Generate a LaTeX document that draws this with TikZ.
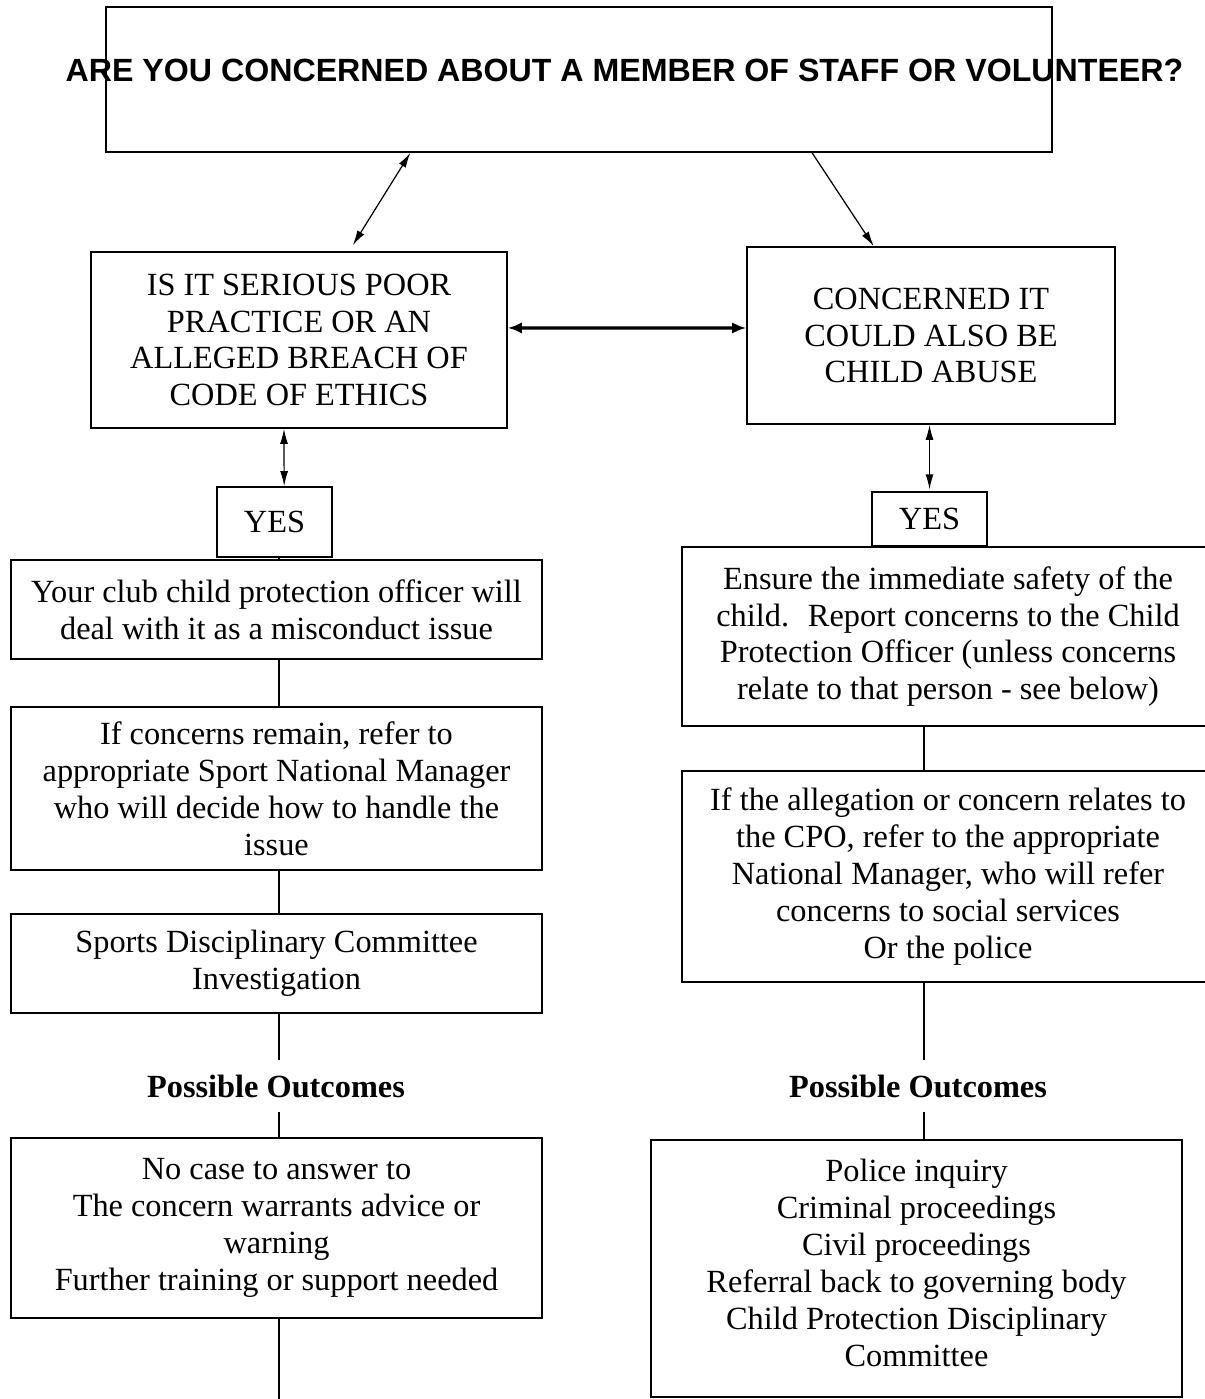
\documentclass[tikz,border=0pt]{standalone}
\usepackage{fontspec}
\setmainfont{Liberation Serif}
\newfontfamily\arialfont{Liberation Sans}
\usepackage{tikz}
\usetikzlibrary{arrows.meta}
\usetikzlibrary{calc}
\usetikzlibrary{positioning}

\tikzset{
  boite/.style={draw,line width=1pt,align=center,inner sep=0pt,font=\fontsize{18.4}{21}\selectfont},
  trait/.style={line width=0.6pt},
  dfleche/.style={line width=0.7pt,{Latex[length=8.5pt,width=4.5pt]}-{Latex[length=8.5pt,width=4.5pt]}},
  fleche/.style={line width=0.7pt,-{Latex[length=8.5pt,width=4.5pt]}},
  grosse/.style={line width=1.8pt,{Latex[length=8pt,width=6.5pt]}-{Latex[length=8pt,width=6.5pt]}},
  issue/.style={inner sep=0pt,minimum height=1.04cm,font=\fontsize{18.4}{21}\selectfont\bfseries},
}

\begin{document}
\begin{tikzpicture}[x=0.02cm,y=-0.02cm]
\useasboundingbox (0,0) rectangle (1204,1399);
% cadre du haut
\node[boite,minimum width=18.92cm,minimum height=2.9cm] (top) at (579,79.5) {};
\node[inner sep=0pt,font=\arialfont\bfseries\fontsize{18.3}{21}\selectfont] (title) at (624.5,70)
  {ARE YOU CONCERNED ABOUT A MEMBER OF STAFF OR VOLUNTEER?};
% questions
\node[boite,minimum width=8.32cm,minimum height=3.52cm] (sp) at (299,340)
  {IS IT SERIOUS POOR\\PRACTICE OR AN\\ALLEGED BREACH OF\\CODE OF ETHICS};
\node[boite,minimum width=7.36cm,minimum height=3.54cm] (ab) at (931,335.5)
  {CONCERNED IT\\COULD ALSO BE\\CHILD ABUSE};
\node[boite,minimum width=2.3cm,minimum height=1.4cm] (yesL) at (274.5,522) {YES};
\node[boite,minimum width=2.3cm,minimum height=1.08cm] (yesR) at (929.5,519) {YES};
% colonne gauche
\node[boite,minimum width=10.62cm,minimum height=1.98cm] (club) at (276.5,609.5)
  {Your club child protection officer will\\deal with it as a misconduct issue};
\node[boite,minimum width=10.62cm,minimum height=3.26cm] (refer) at (276.5,788.5)
  {If concerns remain, refer to\\appropriate Sport National Manager\\who will decide how to handle the\\issue};
\node[boite,minimum width=10.62cm,minimum height=1.98cm] (sdc) at (276.5,963.5)
  {Sports Disciplinary Committee\\Investigation};
\node[issue] (poL) at (276,1086) {Possible Outcomes};
\node[boite,minimum width=10.62cm,minimum height=3.6cm] (outL) at (276.5,1228)
  {No case to answer to\\The concern warrants advice or\\warning\\Further training or support needed};
% colonne droite
\node[boite,minimum width=10.64cm,minimum height=3.58cm] (ensure) at (948,636.5)
  {Ensure the immediate safety of the\\child.~ Report concerns to the Child\\Protection Officer (unless concerns\\relate to that person - see below)};
\node[boite,minimum width=10.64cm,minimum height=4.22cm] (cpo) at (948,876.5)
  {If the allegation or concern relates to\\the CPO, refer to the appropriate\\National Manager, who will refer\\concerns to social services\\Or the police};
\node[issue] (poR) at (918,1086) {Possible Outcomes};
\node[boite,minimum width=10.62cm,minimum height=5.14cm] (outR) at (916.5,1268.5)
  {Police inquiry\\Criminal proceedings\\Civil proceedings\\Referral back to governing body\\Child Protection Disciplinary\\Committee\\[-0.5cm]};
\coordinate (colL) at (279,0);
\coordinate (colR) at (924,0);
\coordinate (endL) at (279,1399);
% fleches
\draw[dfleche,shorten >=4pt] ($(top.south west)!0.322!(top.south east)$) -- ($(sp.north west)!0.62!(sp.north east)$);
\draw[fleche] ($(top.south west)!0.746!(top.south east)$) -- ($(ab.north west)!0.345!(ab.north east)$);
\draw[grosse] ($(sp.north east)!0.432!(sp.south east)$) -- ($(ab.north west)!0.458!(ab.south west)$);
\draw[dfleche] ($(sp.south west)!0.464!(sp.south east)$) -- ($(yesL.north west)!0.583!(yesL.north east)$);
\draw[dfleche,shorten >=1pt] (yesR.north |- ab.south) -- (yesR.north);
% traits
\draw[trait] (yesL.south -| colL) -- (club.north -| colL);
\draw[trait] (club.south -| colL) -- (refer.north -| colL);
\draw[trait] (refer.south -| colL) -- (sdc.north -| colL);
\draw[trait] (sdc.south -| colL) -- (poL.north -| colL);
\draw[trait] (poL.south -| colL) -- (outL.north -| colL);
\draw[trait] (outL.south -| colL) -- (endL);
\draw[trait] (ensure.south -| colR) -- (cpo.north -| colR);
\draw[trait] (cpo.south -| colR) -- (poR.north -| colR);
\draw[trait] (poR.south -| colR) -- (outR.north -| colR);
\end{tikzpicture}
\end{document}
